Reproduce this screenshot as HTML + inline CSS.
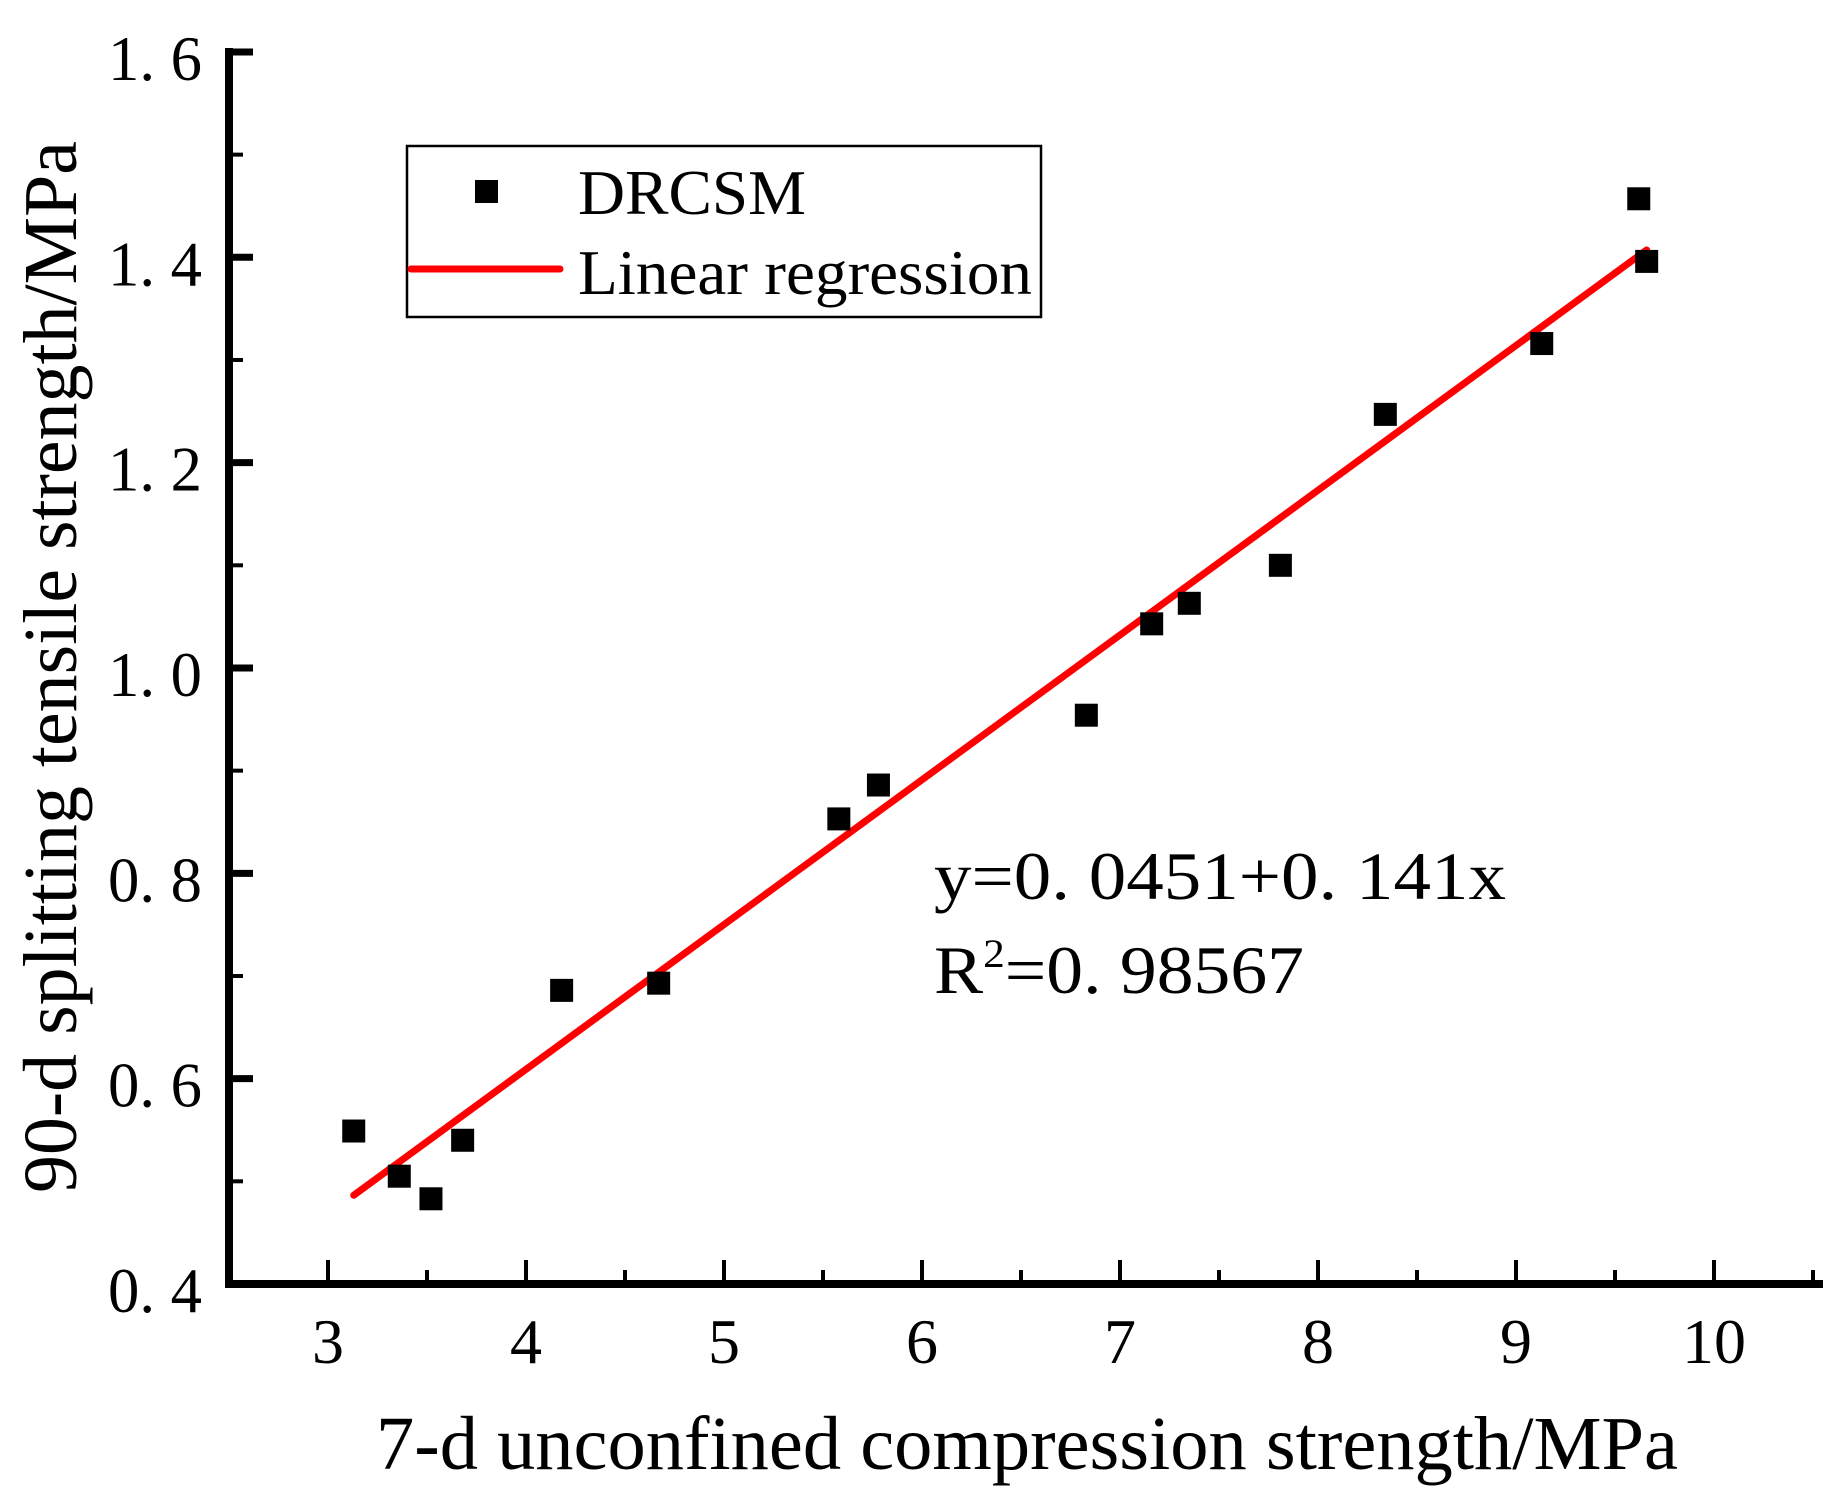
<!DOCTYPE html>
<html><head><meta charset="utf-8"><style>
html,body{margin:0;padding:0;background:#fff;}
svg{display:block;font-family:"Liberation Serif",serif;}
</style></head><body>
<svg id="chart" width="1833" height="1495" viewBox="0 0 1833 1495" xmlns="http://www.w3.org/2000/svg">
<g id="axes"></g>
<g id="marks"></g>
<g>
<rect x="407" y="146" width="634" height="171" fill="#fff" stroke="#000" stroke-width="2.5"/>
<rect x="475" y="180" width="23" height="23" fill="#000"/>
<text x="578" y="214" font-size="64" textLength="228" lengthAdjust="spacingAndGlyphs">DRCSM</text>
<line x1="411" y1="269" x2="560" y2="269" stroke="#ff0000" stroke-width="7" stroke-linecap="round"/>
<text x="578" y="294" font-size="64" textLength="454" lengthAdjust="spacingAndGlyphs">Linear regression</text>
</g>
<text x="934" y="899" font-size="68" textLength="572" lengthAdjust="spacingAndGlyphs">y=0. 0451+0. 141x</text>
<text x="934" y="993" font-size="68" textLength="370" lengthAdjust="spacingAndGlyphs">R<tspan font-size="40" dy="-26">2</tspan><tspan dy="26">=0. 98567</tspan></text>
<text x="376" y="1469" font-size="76" textLength="1302" lengthAdjust="spacingAndGlyphs">7-d unconfined compression strength/MPa</text>
<text transform="translate(76,667) rotate(-90)" text-anchor="middle" font-size="76" textLength="1052" lengthAdjust="spacingAndGlyphs">90-d splitting tensile strength/MPa</text>
</svg>
<script>
const xs = [3.13,3.36,3.52,3.68,4.18,4.67,5.58,5.78,6.83,7.16,7.35,7.81,8.34,9.13,9.62,9.66];
const ys = [0.549,0.505,0.483,0.540,0.686,0.693,0.853,0.886,0.954,1.043,1.063,1.100,1.247,1.316,1.457,1.396];
const xTicks = [3,4,5,6,7,8,9,10];
const xTickLabels = ["3","4","5","6","7","8","9","10"];
const yTicks = [0.4,0.6,0.8,1.0,1.2,1.4,1.6];
const yTickLabels = ["0. 4","0. 6","0. 8","1. 0","1. 2","1. 4","1. 6"];
const fitIntercept = 0.0451;
const fitSlope = 0.141;
const fitRange = [3.13,9.66];

const NS = "http://www.w3.org/2000/svg";
const X = v => 328 + (v - 3) * 198.0;
const Y = v => 1284 - (v - 0.4) * 1026.7;
function mk(tag, attrs, parent) {
  const e = document.createElementNS(NS, tag);
  for (const k in attrs) e.setAttribute(k, attrs[k]);
  parent.appendChild(e);
  return e;
}
const axes = document.getElementById('axes');
const marks = document.getElementById('marks');
const xl = mk('line', {x1:225, y1:1284, x2:1823, y2:1284, stroke:'#000', 'stroke-width':8}, axes);


const yl = mk('line', {x1:229, y1:48, x2:229, y2:1288, stroke:'#000', 'stroke-width':8}, axes);


for (let v = 3; v <= 10.51; v += 0.5) {
  const major = Math.abs(v - Math.round(v)) < 0.01;
  const t = mk('line', {x1:X(v), y1:1284, x2:X(v), y2:1284 - (major ? 24 : 14), stroke:'#000', 'stroke-width':4}, axes);
  
  
}
xTicks.forEach((v, i) => {
  const t = mk('text', {x:X(v), y:1363, 'font-size':64, 'text-anchor':'middle'}, axes);
  t.textContent = xTickLabels[i];
  
  
});
for (let v = 0.5; v <= 1.61; v += 0.1) {
  const major = Math.round(v * 10) % 2 === 0;
  const t = mk('line', {x1:229, y1:Y(v), x2:229 + (major ? 24 : 14), y2:Y(v), stroke:'#000', 'stroke-width':(major?7:4)}, axes);
  
  
}
yTicks.forEach((v, i) => {
  const t = mk('text', {x:202, y:Y(v) + 28, 'font-size':64, 'text-anchor':'end', textLength:94, lengthAdjust:'spacingAndGlyphs'}, axes);
  t.textContent = yTickLabels[i];
  
  
});
const fl = mk('line', {x1:X(fitRange[0]), y1:Y(fitIntercept + fitSlope*fitRange[0]), x2:X(fitRange[1]), y2:Y(fitIntercept + fitSlope*fitRange[1]), stroke:'#ff0000', 'stroke-width':7, 'stroke-linecap':'round'}, marks);


xs.forEach((x, i) => {
  const r = mk('rect', {x:X(x) - 11.5, y:Y(ys[i]) - 11.5, width:23, height:23, fill:'#000'}, marks);
  
  
});
</script>
</body></html>
